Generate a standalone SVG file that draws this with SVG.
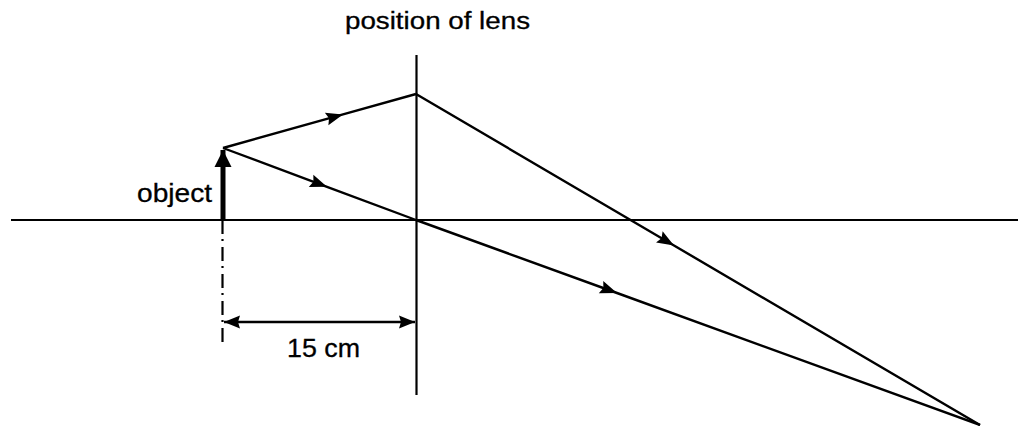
<svg xmlns="http://www.w3.org/2000/svg" width="1018" height="426" viewBox="0 0 1018 426">
<style>
  .ln { stroke: #000; fill: none; stroke-linecap: butt; }
  .ray { stroke: #000; fill: none; stroke-width: 2.4; stroke-linejoin: miter; }
  .lbl { font-family: "Liberation Sans", Arial, sans-serif; fill: #000; stroke: #000; stroke-width: 0.3; }
</style>
<defs>
  <marker id="ah" markerUnits="userSpaceOnUse" markerWidth="18" markerHeight="13" refX="17" refY="6.5" orient="auto" overflow="visible">
    <path d="M0,0 L17,6.5 L0,13 L2.5,6.5 z" fill="#000"/>
  </marker>
  <marker id="ahBig" markerUnits="userSpaceOnUse" markerWidth="17" markerHeight="17" refX="17" refY="8.5" orient="auto" overflow="visible">
    <path d="M0,0 L17,8.5 L0,17 z" fill="#000"/>
  </marker>
  <marker id="dimA" markerUnits="userSpaceOnUse" markerWidth="17" markerHeight="13" refX="16" refY="6.5" orient="auto-start-reverse" overflow="visible">
    <path d="M0,0 L16,6.5 L0,13 L2,6.5 z" fill="#000"/>
  </marker>
</defs>
<rect width="1018" height="426" fill="#fff"/>

<g id="axis">
  <line class="ln" x1="11" y1="220" x2="1018" y2="220" stroke-width="1.8"/>
</g>

<g id="lens">
  <line class="ln" x1="416.5" y1="55" x2="416.5" y2="395" stroke-width="2.2"/>
  <text class="lbl" x="345" y="29" font-size="23" textLength="185" lengthAdjust="spacingAndGlyphs">position of lens</text>
</g>

<g id="object">
  <line class="ln" x1="223" y1="220" x2="223" y2="150" stroke-width="5" marker-end="url(#ahBig)"/>
  <text class="lbl" x="137" y="202" font-size="25" textLength="75" lengthAdjust="spacingAndGlyphs">object</text>
</g>

<g id="dimension">
  <line class="ln" x1="222.5" y1="220" x2="222.5" y2="345" stroke-width="2.2" stroke-dasharray="14 5 2 6"/>
  <line class="ln" x1="224" y1="322" x2="415" y2="322" stroke-width="2.4" marker-start="url(#dimA)" marker-end="url(#dimA)"/>
  <text class="lbl" x="287" y="357" font-size="25" textLength="73" lengthAdjust="spacingAndGlyphs">15 cm</text>
</g>

<g id="connectors">
  <polyline class="ray" points="223,148 343,114.4 416,94" marker-mid="url(#ah)"/>
  <polyline class="ray" points="416,94 674,245.5 980,425" marker-mid="url(#ah)"/>
  <polyline class="ray" points="223,148 327,186.8 416,220" marker-mid="url(#ah)"/>
  <polyline class="ray" points="416,220 617,293 980,425" marker-mid="url(#ah)"/>
</g>
</svg>
